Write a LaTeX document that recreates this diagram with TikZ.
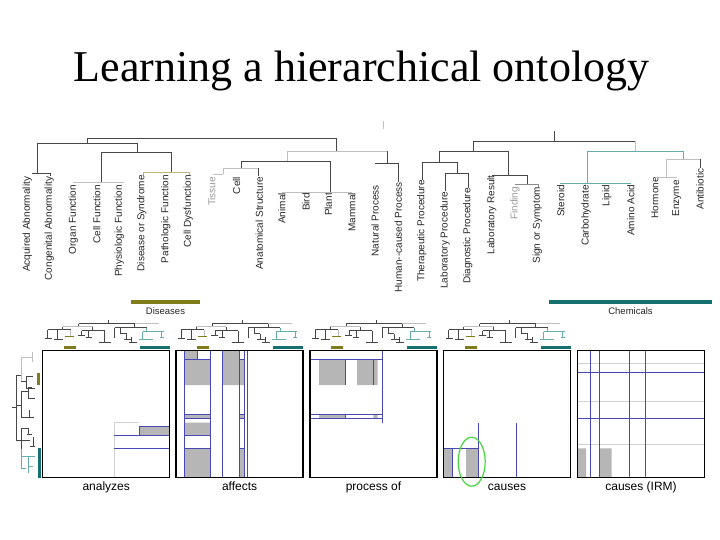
\documentclass[tikz,border=0pt]{standalone}
\usepackage{fontspec}
\setmainfont{Liberation Serif}
\newfontfamily\labelfont{Liberation Sans}
\usetikzlibrary{positioning,shapes.geometric}

\definecolor{olivebar}{RGB}{128,124,28}
\definecolor{tealbar}{RGB}{22,112,112}
\definecolor{tealline}{RGB}{105,172,172}
\definecolor{khaki}{RGB}{190,184,118}
\definecolor{partblue}{RGB}{72,72,180}
\definecolor{cellgray}{RGB}{182,182,182}
\definecolor{ringgreen}{RGB}{70,215,60}

\pgfdeclarelayer{background}
\pgfsetlayers{background,main}

\begin{document}
\begin{tikzpicture}[
    x=1pt, y=-1pt,
    leaf/.style={rotate=90, anchor=east, inner sep=0pt, text=black!85, font=\labelfont\fontsize{10}{12}\selectfont},
    branch/.style={draw=black!72, line width=0.8pt},
    faint/.style={draw=black!25, line width=0.8pt},
    tealbranch/.style={draw=tealline, line width=0.8pt},
    khakibranch/.style={draw=khaki, line width=0.8pt},
    matrixbox/.style={draw=black, line width=1.3pt, minimum size=127pt, inner sep=0pt, outer sep=0pt},
    rellabel/.style={inner sep=0pt, text height=8.6pt, text depth=2.5pt, font=\labelfont\fontsize{12}{14}\selectfont},
    grouplabel/.style={inner sep=0pt, text height=6.9pt, text depth=0pt, font=\labelfont\fontsize{9.5}{11}\selectfont, text=black!85},
    cell/.style={fill=cellgray},
    split/.style={draw=partblue, line width=0.8pt},
    grid/.style={draw=black!18, line width=0.8pt},
]
\useasboundingbox (0,0) rectangle (720,540);

\node (title) [anchor=base, font=\fontsize{44}{50}\selectfont] at (361.5,82) {Learning a hierarchical ontology};

% ontology leaves
\node (acq) [leaf] at (27.3,176.7) {Acquired Abnormality};
\node (cong) [leaf] at (49.3,176.7) {Congenital Abnormality};
\node (organ) [leaf] at (73.3,185) {Organ Function};
\node (cellf) [leaf] at (96.7,185) {Cell Function};
\node (phys) [leaf] at (119.3,185) {Physiologic Function};
\node (dis) [leaf] at (141.7,175) {Disease or Syndrome};
\node (path) [leaf] at (165.7,175) {Pathologic Function};
\node (celld) [leaf] at (188.3,175) {Cell Dysfunction};
\node (tissue) [leaf, text=black!40] at (211.7,176.7) {Tissue};
\node (cell) [leaf] at (236.5,176.7) {Cell};
\node (anat) [leaf] at (259.3,176.7) {Anatomical Structure};
\node (animal) [leaf] at (281.7,193) {Animal};
\node (bird) [leaf] at (306,193) {Bird};
\node (plant) [leaf] at (328.3,193) {Plant};
\node (mammal) [leaf] at (351.7,193) {Mammal};
\node (natural) [leaf] at (375,185) {Natural Process};
\node (human) [leaf] at (398.3,182) {Human--caused Process};
\node (thera) [leaf] at (421.7,180) {Therapeutic Procedure};
\node (labp) [leaf] at (445,191.7) {Laboratory Procedure};
\node (diag) [leaf] at (467.7,188) {Diagnostic Procedure};
\node (labr) [leaf] at (491.7,175) {Laboratory Result};
\node (finding) [leaf, text=black!40] at (515,186.7) {Finding};
\node (sign) [leaf] at (537.3,186.7) {Sign or Symptom};
\node (steroid) [leaf] at (560.7,185) {Steroid};
\node (carbo) [leaf] at (586,185) {Carbohydrate};
\node (lipid) [leaf] at (606.7,185) {Lipid};
\node (amino) [leaf] at (630.7,185) {Amino Acid};
\node (hormone) [leaf] at (655,177) {Hormone};
\node (enzyme) [leaf] at (676.7,180) {Enzyme};
\node (antib) [leaf] at (700,168.5) {Antibiotic};

% ontology tree
\draw[faint] (383,121)--(383,129);
\draw[branch] (87,138)--(336,138) (87,138)--(87,143) (37,143)--(137,143)
  (37,143)--(37,173) (32,173)--(50,173)--(50,176)
  (137,143)--(137,152) (101,152)--(171,152) (101,152)--(101,182) (171,152)--(171,172);
\draw[faint] (73,182)--(124,182);
\draw[khakibranch] (143,172)--(189,172) (143,172)--(143,175) (189,172)--(189,175);
\draw[branch] (336,138)--(336,151);
\draw[faint] (287,151)--(387,151) (287,151)--(287,161) (213,174)--(223,174) (223,168)--(223,174) (223,168)--(258,168);
\draw[branch] (387,151)--(387,163) (375,163)--(398,163) (398,163)--(398,182)
  (258,168)--(258,176) (241.7,161)--(241.7,168) (241.7,161)--(330,161) (330,161)--(330,192);
\draw[faint] (282,192)--(352,192);
\draw[branch] (473,141)--(635,141) (554,131)--(554,141) (473,141)--(473,151)
  (439,151)--(508,151) (439,151)--(439,162) (422,162)--(457,162) (422,162)--(422,180)
  (457,162)--(457,173) (445,173)--(468,173) (445,173)--(445,191) (468,173)--(468,188)
  (508,151)--(508,175) (492,175)--(527,175) (527,175)--(527,184);
\draw[faint, draw=black!45] (515,184)--(538,184) (538,184)--(538,187);
\draw[faint] (635,141)--(635,151);
\draw[tealbranch] (587,151)--(683,151) (587,151)--(587,183) (560,183)--(631,183) (683,151)--(683,159);
\draw[faint] (666,159)--(700,159) (666,159)--(666,177) (655,177)--(677,177);
\draw[branch] (700,159)--(700,168);

% group bars
\node (disbar) [fill=olivebar, minimum width=69pt, minimum height=3.3pt, inner sep=0pt] at (165.5,302) {};
\node (diseases) [grouplabel, below=3.5pt of disbar] {Diseases};
\node (chembar) [fill=tealbar, minimum width=163pt, minimum height=3.3pt, inner sep=0pt] at (630.5,302) {};
\node (chemicals) [grouplabel, below=3.5pt of chembar] {Chemicals};

% relation matrices
\node (analyzes) [matrixbox] at (106.2,414.2) {};
\node (affects) [matrixbox] at (239.6,414.2) {};
\node (processof) [matrixbox] at (373.5,414.2) {};
\node (causes) [matrixbox] at (507,414.2) {};
\node (causesirm) [matrixbox] at (641,414.2) {};

\node (lanalyzes) [rellabel, below=3.5pt of analyzes] {analyzes};
\node (laffects) [rellabel, below=3.5pt of affects] {affects};
\node (lprocessof) [rellabel, below=3.5pt of processof] {process of};
\node (lcauses) [rellabel, below=3.5pt of causes] {causes};
\node (lcausesirm) [rellabel, below=3.5pt of causesirm] {causes (IRM)};

\begin{pgfonlayer}{background}
\begin{scope}[shift={(analyzes.north west)}]
  \draw[grid] (71.6,72)--(71.6,127) (71.6,72)--(96.6,72);
  \fill[cell] (96.6,76) rectangle (127,84.6);
  \draw[split] (96.6,76)--(127,76) (96.6,76)--(96.6,84.6) (71.6,84.6)--(127,84.6) (71.6,97.6)--(127,97.6);
\end{scope}
\begin{scope}[shift={(affects.north west)}]
  \fill[cell] (8,0) rectangle (21,8.6) (8,8.6) rectangle (34,34.3) (8,63.6) rectangle (34,67.6)
    (8,72) rectangle (34,84.6) (8,97.6) rectangle (34,127) (46.7,0) rectangle (63.3,34.3)
    (63.3,8.6) rectangle (68,34.3) (63.3,63.6) rectangle (68,67.6) (63.3,97.6) rectangle (68,127);
  \draw[split] (8,0)--(8,127) (34,0)--(34,127) (46.7,0)--(46.7,127) (63.3,0)--(63.3,127)
    (68,0)--(68,127) (71.3,0)--(71.3,127) (21,0)--(21,8.6);
  \draw[split] (8,8.6)--(34,8.6) (8,63.6)--(34,63.6) (8,67.6)--(34,67.6) (8,84.6)--(34,84.6)
    (8,97.6)--(34,97.6) (63.3,8.6)--(68,8.6) (63.3,63.6)--(68,63.6) (63.3,67.6)--(68,67.6) (63.3,97.6)--(68,97.6);
\end{scope}
\begin{scope}[shift={(processof.north west)}]
  \fill[cell] (9,8.6) rectangle (35,34.3) (47,8.6) rectangle (67.7,34.3) (9,63.6) rectangle (35,67.6)
    (63.3,63.6) rectangle (67.7,67.6);
  \draw[split] (0,8.6)--(72.7,8.6) (72.7,0)--(72.7,72) (35,8.6)--(35,34.3) (63.3,8.6)--(63.3,34.3)
    (0,63.6)--(72.7,63.6) (0,67.6)--(72.7,67.6) (35,63.6)--(35,67.6);
\end{scope}
\begin{scope}[shift={(causes.north west)}]
  \fill[cell] (0,97.6) rectangle (9.3,127) (22.5,97.6) rectangle (35,127);
  \draw[split] (35,72.6)--(35,127) (73.2,72.6)--(73.2,127) (0,97.6)--(35,97.6) (9.3,97.6)--(9.3,127);
\end{scope}
\begin{scope}[shift={(causesirm.north west)}]
  \fill[cell] (0,97.6) rectangle (8.5,127) (21.8,97.6) rectangle (34.2,127);
  \draw[grid] (0,12.6)--(127,12.6) (0,50.3)--(127,50.3) (0,93.6)--(127,93.6);
  \draw[split] (0,21.6)--(127,21.6) (0,67.6)--(127,67.6) (13.2,0)--(13.2,127) (21.8,0)--(21.8,127)
    (51.5,0)--(51.5,127) (67.8,0)--(67.8,127);
\end{scope}
\end{pgfonlayer}

\node (ring) [draw=ringgreen, line width=1.2pt, ellipse, minimum width=27pt, minimum height=49pt, inner sep=0pt] at (471.7,461.7) {};

% small trees over the matrices
\foreach \m in {analyzes,affects,processof,causes}{
  \begin{scope}[shift={(\m.north west)}]
    \fill[olivebar] (21,-5) rectangle (33,-1.7);
    \fill[tealbar] (97,-5) rectangle (127,-1.7);
    \draw[branch, line width=0.6pt] (66,-31)--(66,-27) (36,-27)--(92,-27) (36,-27)--(36,-24)
      (20,-24)--(20,-21) (5,-21)--(28,-21) (5,-21)--(5,-12) (2,-12)--(9,-12)
      (15,-21)--(15,-11) (11,-11)--(20,-11)
      (50,-24)--(50,-20) (39,-20)--(62,-20) (39,-20)--(39,-15) (35,-15)--(42,-15)
      (46,-20)--(46,-13) (43,-13)--(49,-13) (62,-20)--(62,-8) (56,-8)--(68,-8)
      (92,-27)--(92,-23) (72,-23)--(104,-23) (72,-23)--(72,-13)
      (78,-23)--(78,-17) (78,-17)--(84,-17) (84,-17)--(84,-11) (81,-11)--(89,-11)
      (89,-14)--(89,-8) (86,-8)--(94,-8);
    \draw[faint, line width=0.6pt] (92,-27)--(116,-27) (20,-24)--(50,-24) (28,-21)--(28,-14);
    \draw[khakibranch, draw=olivebar, line width=0.6pt] (22,-14)--(31,-14);
    \draw[tealbranch, line width=0.6pt] (104,-23)--(104,-19) (100,-19)--(121,-19) (100,-19)--(100,-11)
      (96,-11)--(110,-11) (119,-19)--(119,-13) (117,-13)--(121,-13);
  \end{scope}
}

% row tree next to the first matrix
\node (rowdis) [fill=olivebar, minimum width=3pt, minimum height=12.5pt, inner sep=0pt] at (38.8,378.8) {};
\node (rowchem) [fill=tealbar, minimum width=3pt, minimum height=29.5pt, inner sep=0pt] at (39.2,463.2) {};
\draw[branch, line width=0.6pt] (12,407)--(16,407) (16,375)--(16,440)
  (16,375)--(21,375) (21,381)--(26,381) (26,376)--(26,388) (26,376)--(33,376) (26,388)--(35,388)
  (16,405)--(21,405) (21,391)--(21,417) (21,391)--(28,391) (28,387)--(28,398) (28,387)--(32,387)
  (28,398)--(35,398) (21,417)--(34,417) (29,410)--(29,417)
  (16,440)--(21,440) (21,428)--(21,449) (21,428)--(28,428) (28,428)--(28,434) (27,434)--(32,434)
  (21,440)--(30,440) (33,437)--(33,446) (30,446)--(35,446);
\draw[faint, line width=0.6pt] (21,357)--(21,381) (21,357)--(32,357) (32,352)--(32,362);
\draw[tealbranch, line width=0.6pt] (21,449)--(21,468) (21,456)--(35,456) (28,456)--(28,473)
  (28,466)--(33,466) (21,468)--(26,468);
\end{tikzpicture}
\end{document}
